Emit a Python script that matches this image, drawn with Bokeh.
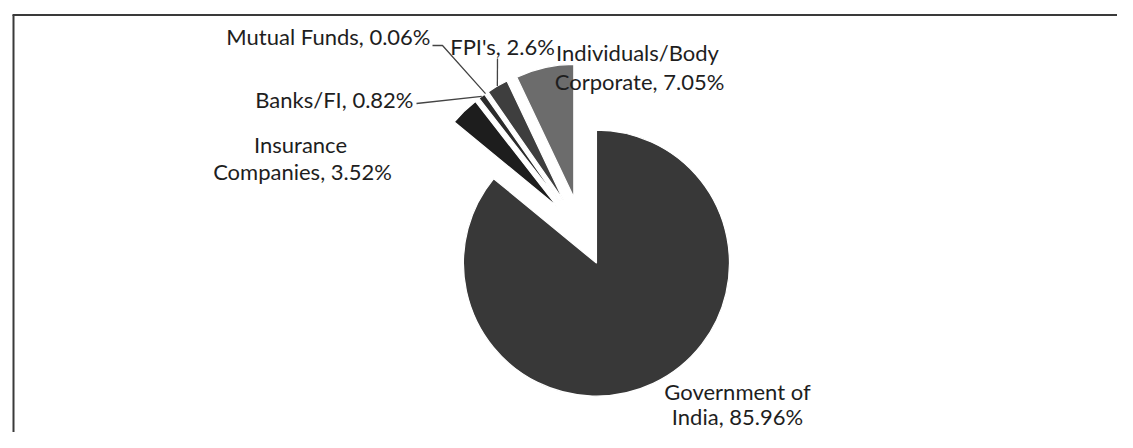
import numpy as np
from bokeh.plotting import figure
from bokeh.models import ColumnDataSource
from bokeh.core.properties import value
from bokeh.embed import file_html
from bokeh.resources import INLINE

# ---- data ----
categories = ["Government of India", "Insurance Companies", "Banks/FI",
              "Mutual Funds", "FPI's", "Individuals/Body Corporate"]
shares = [85.96, 3.52, 0.82, 0.06, 2.6, 7.05]
label_lines = [["Government of", "India, 85.96%"],
               ["Insurance", "Companies, 3.52%"],
               ["Banks/FI, 0.82%"],
               ["Mutual Funds, 0.06%"],
               ["FPI's, 2.6%"],
               ["Individuals/Body", "Corporate, 7.05%"]]
colors = ["#383838", "#1d1d1d", "#2b2b2b", "#4a4a4a", "#3e3e3e", "#6c6c6c"]

# ---- layout (picture pixels, top-left origin) ----
W, H = 1117, 432
def X(px): return px
def Y(py): return H - py

CX, CY = X(581), Y(231)
R = 133
EXPLODE = 35
label_layout = [
    ([(737, 391), (737, 416)], "center"),
    ([(300, 144), (302, 171)], "center"),
    ([(413, 99)], "right"),
    ([(430, 36)], "right"),
    ([(502, 46)], "center"),
    ([(637, 52), (639, 81)], "center"),
]
leader_starts = [None, None, [(416, 103)], [(432, 45), (442, 45)], [(497, 58)], None]

p = figure(width=W, height=H, x_range=(0, W), y_range=(0, H),
           output_backend="svg", toolbar_location=None, min_border=0,
           x_axis_type=None, y_axis_type=None)
p.grid.visible = False
p.outline_line_color = None
p.background_fill_color = "white"
p.border_fill_color = "white"

# frame (top and left edges of the chart box)
p.line([X(12), X(W + 20)], [Y(14.5), Y(14.5)], line_color="#3a3a3a", line_width=2)
p.line([X(13), X(13)], [Y(14.5), -20], line_color="#3a3a3a", line_width=2)

total = sum(shares)
fr = np.array(shares) / total * 2 * np.pi
c1 = np.cumsum(fr)
c0 = c1 - fr
mid = (c0 + c1) / 2
wx = CX + EXPLODE * np.sin(mid)
wy = CY + EXPLODE * np.cos(mid)
src = ColumnDataSource(dict(x=wx, y=wy, start=np.pi / 2 - c1, end=np.pi / 2 - c0,
                            color=colors, name=categories, share=shares))
p.wedge(x="x", y="y", radius=R, start_angle="start", end_angle="end",
        direction="anticlock", fill_color="color", line_color="white",
        line_width=1.2, source=src)

# leader lines
for i, st in enumerate(leader_starts):
    if st is None:
        continue
    ex = wx[i] + R * np.sin(mid[i])
    ey = wy[i] + R * np.cos(mid[i])
    xs = [X(a) for a, b in st] + [ex]
    ys = [Y(b) for a, b in st] + [ey]
    p.line(xs, ys, line_color="#444444", line_width=1.3)

# labels
for lines, (pos, align) in zip(label_lines, label_layout):
    for t, (lx, ly) in zip(lines, pos):
        p.text(x=[X(lx)], y=[Y(ly)], text=[t], text_align=align,
               text_baseline="middle", text_font=value("Lato"),
               text_font_size="22px", text_color="#1e1e1e")

open("out.html", "w").write(file_html(p, INLINE))
